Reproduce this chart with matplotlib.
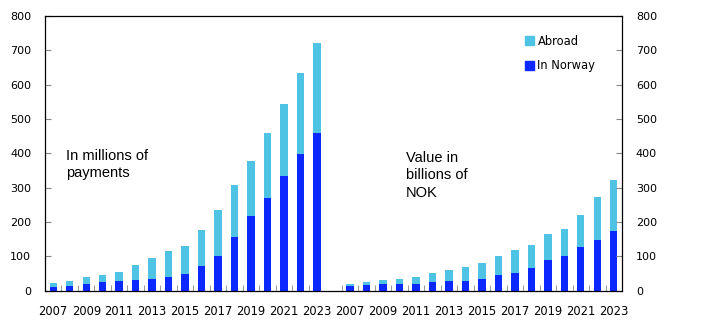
import numpy as np
from matplotlib import pyplot as plt
from matplotlib.patches import Patch

# Data
aar = list(range(2007, 2024))
# Antall betalinger, millioner
antall_norge = [12, 15, 20, 24, 27, 31, 34, 41, 50, 73, 100, 155, 218, 269, 333, 399, 459]
antall_total = [22, 29, 39, 47, 55, 75, 95, 116, 130, 177, 234, 309, 378, 458, 545, 634, 722]
# Verdi, milliarder NOK
verdi_norge = [13, 16, 20, 20, 20, 25, 28, 29, 34, 45, 51, 66, 90, 102, 126, 149, 174]
verdi_total = [19, 25, 31, 35, 41, 53, 60, 69, 81, 100, 118, 134, 166, 180, 221, 273, 321]

lysblaa = '#4fc3e3'
blaa = '#0a28ff'

plt.rcParams.update({'font.family': 'DejaVu Sans', 'font.size': 8})

W, H = 722, 330
fig = plt.figure(figsize=(W/100, H/100), dpi=100)
ax = fig.add_axes([45/W, 1 - 290.7/H, (622 - 45)/W, (290.7 - 16)/H])

n = len(aar)
x1 = np.arange(n)
x2 = np.arange(n) + n + 1
norge = np.array(antall_norge + verdi_norge)
total = np.array(antall_total + verdi_total)
xs = np.concatenate([x1, x2])

ax.bar(xs, norge, width=0.45, color=blaa, label='In Norway')
ax.bar(xs, total - norge, bottom=norge, width=0.45, color=lysblaa, label='Abroad')

ax.set_xlim(-0.5, 2 * n + 0.5)
ax.set_ylim(0, 800)
ax.set_yticks(range(0, 801, 100))

labx = list(x1[::2]) + list(x2[::2])
ax.set_xticks(labx)
ax.set_xticklabels([str(a) for a in aar[::2]] * 2, fontsize=8.3)
ax.tick_params(axis='x', length=0, pad=10)
mindre = list(x1[:-1] + 0.5) + list(x2[:-1] + 0.5) + [n + 0.5]
ax.set_xticks(mindre, minor=True)
ax.tick_params(axis='x', which='minor', direction='in', length=4, color='#888888')
ax.tick_params(axis='y', direction='in', length=4, color='#888888', left=True, right=True,
               labelleft=True, labelright=True, pad=10)

for s in ax.spines.values():
    s.set_linewidth(0.9)

ax.text(66/W, 1 - 149/H, 'In millions of\npayments', transform=fig.transFigure, fontsize=10.5,
        family='Liberation Sans', va='top', ha='left', linespacing=1.3)
ax.text(406/W, 1 - 151/H, 'Value in\nbillions of\nNOK', transform=fig.transFigure, fontsize=10.5,
        family='Liberation Sans', va='top', ha='left', linespacing=1.3)

handles = [Patch(color=lysblaa, label='Abroad'), Patch(color=blaa, label='In Norway')]
ax.legend(handles=handles, loc='upper left', bbox_to_anchor=(519/W, 1 - 29/H),
          bbox_transform=fig.transFigure, frameon=False, handlelength=0.8, handleheight=0.8,
          handletextpad=0.3, labelspacing=1.0, fontsize=8.3, borderpad=0)

fig.savefig('out.png', dpi=100)
plt.close()
